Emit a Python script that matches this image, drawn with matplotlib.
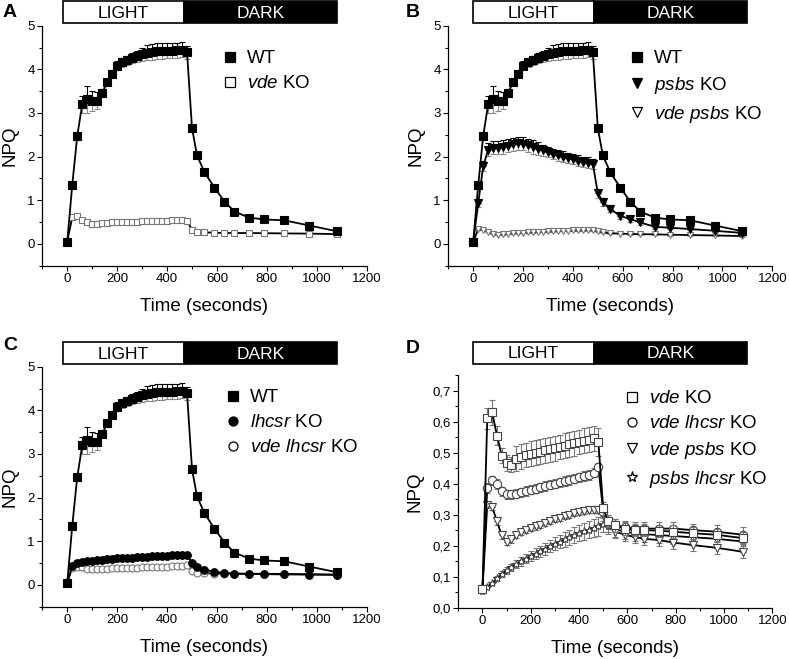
import matplotlib
matplotlib.use("Agg")
import matplotlib.pyplot as plt
from matplotlib.patches import Rectangle
from matplotlib.lines import Line2D
from matplotlib.ticker import MultipleLocator, FuncFormatter

plt.rcParams['font.family'] = ['Liberation Sans', 'DejaVu Sans']
plt.rcParams['mathtext.fontset'] = 'custom'
plt.rcParams['mathtext.it'] = 'Liberation Sans:italic'
plt.rcParams['mathtext.rm'] = 'Liberation Sans'

# time points (s): light phase then dark recovery
t = [0, 20, 40, 60, 80, 100, 120, 140, 160, 180, 200, 220, 240, 260, 280, 300,
     320, 340, 360, 380, 400, 420, 440, 460, 480,
     500, 520, 550, 590, 630, 670, 730, 790, 870, 970, 1080]

wt = [0.05, 1.35, 2.47, 3.2, 3.31, 3.27, 3.28, 3.46, 3.7, 3.9, 4.08, 4.16, 4.21, 4.26,
      4.3, 4.35, 4.38, 4.4, 4.42, 4.42, 4.43, 4.43, 4.44, 4.45, 4.39,
      2.65, 2.03, 1.64, 1.29, 0.97, 0.74, 0.6, 0.56, 0.54, 0.42, 0.29]
wt_err = [0.02, 0.05, 0.08, 0.19, 0.3, 0.23, 0.2, 0.1, 0.08, 0.08, 0.1, 0.1, 0.1, 0.12,
          0.13, 0.15, 0.17, 0.18, 0.18, 0.18, 0.18, 0.18, 0.17, 0.17, 0.15,
          0.05, 0.04, 0.04, 0.03, 0.03, 0.03, 0.03, 0.02, 0.02, 0.02, 0.02]

psbs = [0.05, 0.93, 1.78, 2.16, 2.2, 2.2, 2.22, 2.25, 2.28, 2.31, 2.29, 2.26, 2.22, 2.18,
        2.14, 2.1, 2.06, 2.03, 2.0, 1.97, 1.94, 1.91, 1.88, 1.86, 1.83,
        1.16, 0.96, 0.8, 0.64, 0.57, 0.49, 0.39, 0.37, 0.34, 0.30, 0.25]
psbs_err = [0.02, 0.08, 0.12, 0.15, 0.15, 0.15, 0.15, 0.15, 0.15, 0.15, 0.15, 0.15, 0.15,
            0.15, 0.12, 0.12, 0.12, 0.12, 0.12, 0.12, 0.12, 0.12, 0.12, 0.12, 0.12,
            0.1, 0.1, 0.08, 0.08, 0.06, 0.05, 0.04, 0.03, 0.03, 0.03, 0.03]

lhcsr = [0.05, 0.44, 0.5, 0.53, 0.545, 0.555, 0.565, 0.575, 0.585, 0.595, 0.605, 0.612,
         0.62, 0.627, 0.633, 0.64, 0.646, 0.652, 0.658, 0.664, 0.67, 0.675, 0.68, 0.685, 0.69,
         0.50, 0.40, 0.345, 0.30, 0.275, 0.26, 0.25, 0.245, 0.24, 0.235, 0.23]
lhcsr_err = [0.01, 0.03, 0.03, 0.03, 0.03, 0.03, 0.03, 0.03, 0.03, 0.03, 0.03, 0.03,
             0.03, 0.03, 0.03, 0.03, 0.03, 0.03, 0.03, 0.03, 0.03, 0.03, 0.03, 0.03, 0.03,
             0.03, 0.03, 0.02, 0.02, 0.02, 0.02, 0.02, 0.02, 0.02, 0.02, 0.02]

vde = [0.06, 0.61, 0.63, 0.555, 0.49, 0.467, 0.461, 0.48, 0.487, 0.492, 0.496, 0.50,
       0.503, 0.507, 0.51, 0.514, 0.518, 0.522, 0.526, 0.53, 0.534, 0.538, 0.542, 0.546, 0.533,
       0.32, 0.28, 0.265, 0.255, 0.25, 0.25, 0.248, 0.245, 0.24, 0.235, 0.224]
vde_err = [0.005, 0.035, 0.04, 0.03, 0.025, 0.025, 0.025, 0.04, 0.04, 0.04, 0.04, 0.04,
           0.04, 0.04, 0.04, 0.04, 0.04, 0.04, 0.04, 0.04, 0.04, 0.04, 0.04, 0.04, 0.045,
           0.02, 0.02, 0.02, 0.02, 0.02, 0.02, 0.02, 0.02, 0.02, 0.02, 0.02]

vde_lhcsr = [0.06, 0.386, 0.41, 0.399, 0.375, 0.365, 0.365, 0.368, 0.372, 0.376, 0.38,
             0.384, 0.388, 0.392, 0.396, 0.40, 0.404, 0.408, 0.412, 0.416, 0.42, 0.424,
             0.428, 0.435, 0.452,
             0.31, 0.28, 0.265, 0.26, 0.255, 0.255, 0.255, 0.255, 0.25, 0.245, 0.235]
vde_lhcsr_err = [0.005, 0.015, 0.015, 0.015, 0.015, 0.015, 0.015, 0.015, 0.015, 0.015,
                 0.015, 0.015, 0.015, 0.015, 0.015, 0.015, 0.015, 0.015, 0.015, 0.015,
                 0.015, 0.015, 0.015, 0.015, 0.015,
                 0.02, 0.02, 0.02, 0.02, 0.02, 0.02, 0.02, 0.02, 0.02, 0.02, 0.025]

vde_psbs = [0.06, 0.332, 0.326, 0.278, 0.233, 0.213, 0.22, 0.235, 0.243, 0.25, 0.256,
            0.262, 0.268, 0.274, 0.28, 0.285, 0.29, 0.295, 0.3, 0.304, 0.308, 0.311,
            0.314, 0.316, 0.315,
            0.30, 0.265, 0.245, 0.235, 0.228, 0.222, 0.218, 0.21, 0.202, 0.193, 0.18]
vde_psbs_err = [0.005, 0.01, 0.01, 0.01, 0.01, 0.01, 0.01, 0.01, 0.01, 0.01, 0.01, 0.01,
                0.01, 0.01, 0.01, 0.01, 0.01, 0.01, 0.01, 0.01, 0.01, 0.01, 0.01, 0.01, 0.01,
                0.02, 0.02, 0.02, 0.02, 0.02, 0.02, 0.02, 0.02, 0.02, 0.02, 0.02]

psbs_lhcsr = [0.055, 0.068, 0.078, 0.095, 0.108, 0.12, 0.13, 0.14, 0.15, 0.158, 0.166,
              0.174, 0.182, 0.19, 0.198, 0.206, 0.213, 0.22, 0.227, 0.234, 0.24, 0.246,
              0.252, 0.258, 0.262,
              0.27, 0.262, 0.253, 0.245, 0.24, 0.237, 0.234, 0.231, 0.227, 0.222, 0.213]
psbs_lhcsr_err = [0.005, 0.005, 0.006, 0.008, 0.01, 0.01, 0.012, 0.013, 0.014, 0.015,
                  0.016, 0.017, 0.018, 0.019, 0.02, 0.021, 0.022, 0.023, 0.024, 0.025,
                  0.026, 0.027, 0.028, 0.029, 0.03,
                  0.025, 0.025, 0.025, 0.025, 0.025, 0.025, 0.025, 0.025, 0.025, 0.025, 0.025]

W, H = 789, 659
fig = plt.figure(figsize=(W / 100, H / 100), dpi=100)


def px_axes(l, top, r, b):
    return fig.add_axes([l / W, 1 - b / H, (r - l) / W, (b - top) / H])


def style(ax, ylim, major, minor, fmt=None):
    ax.set_xlim(-100, 1200)
    ax.set_ylim(*ylim)
    for s in ['top', 'right']:
        ax.spines[s].set_visible(False)
    for s in ['left', 'bottom']:
        ax.spines[s].set_linewidth(0.9)
    ax.xaxis.set_minor_locator(MultipleLocator(100))
    ax.yaxis.set_major_locator(MultipleLocator(major))
    ax.yaxis.set_minor_locator(MultipleLocator(minor))
    ax.set_xticks([0, 200, 400, 600, 800, 1000, 1200])
    if fmt:
        ax.yaxis.set_major_formatter(FuncFormatter(fmt))
    ax.tick_params(which='major', direction='out', length=3.5, width=0.8, labelsize=9.5, pad=2)
    ax.tick_params(which='minor', direction='out', length=2, width=0.8)
    ax.set_xlabel('Time (seconds)', fontsize=13.5, labelpad=9)
    ax.set_ylabel('NPQ', fontsize=13.5, labelpad=6)


def series(ax, y, err, marker, mfc, mec, ms, up='black', lo='#888888', z=3):
    zeros = [0] * len(y)
    ax.errorbar(t, y, yerr=[zeros, err], fmt='none', ecolor=up, elinewidth=0.8,
                capsize=2, capthick=0.8, zorder=z)
    ax.errorbar(t, y, yerr=[err, zeros], fmt='none', ecolor=lo, elinewidth=0.8,
                capsize=2, capthick=0.8, zorder=z)
    ax.plot(t, y, color='black', lw=1.3, marker=marker, ms=ms, mfc=mfc, mec=mec,
            mew=0.8, zorder=z + 1)


def bar(l, top, r, b, split):
    bx = px_axes(l, top, r, b)
    bx.set_xlim(0, 1)
    bx.set_ylim(0, 1)
    bx.axis('off')
    f = (split - l) / (r - l)
    bx.add_patch(Rectangle((0, 0), f, 1, fc='white', ec='black', lw=1.2, clip_on=False))
    bx.add_patch(Rectangle((f, 0), 1 - f, 1, fc='black', ec='black', lw=1.2, clip_on=False))
    bx.text(f / 2, 0.45, 'LIGHT', ha='center', va='center', fontsize=12.5, color='black')
    bx.text(f + (1 - f) / 2, 0.45, 'DARK', ha='center', va='center', fontsize=12.5, color='white')


def legend(ax, handles, labels, x, y):
    ax.legend(handles, labels, loc='upper left', bbox_to_anchor=(x / W, 1 - y / H),
              bbox_transform=fig.transFigure, frameon=False, fontsize=13.5,
              handlelength=0.9, handletextpad=0.45, labelspacing=0.42, borderpad=0,
              borderaxespad=0)


def h(marker, mfc, ms=6.5):
    return Line2D([], [], ls='none', marker=marker, mfc=mfc, mec='black', mew=0.9, ms=ms)


comma = lambda v, p: ('%.1f' % v).replace('.', ',')

# Panel A
axA = px_axes(42.3, 25.7, 366.7, 265.7)
style(axA, (-0.5, 5), 1, 0.5)
series(axA, vde, vde_err, 's', 'white', '#777777', 5, up='#888888', z=2)
series(axA, wt, wt_err, 's', 'black', 'black', 5.5, z=4)
legend(axA, [h('s', 'black'), h('s', 'white')], ['WT', r'$\mathit{vde}$ KO'], 222, 50)
bar(63.3, 0.7, 337.3, 23.3, 184)
fig.text(3 / W, 1 - 4 / H, 'A', fontsize=14, fontweight='bold', va='top')

# Panel B
axB = px_axes(448.3, 25.7, 772.3, 265.7)
style(axB, (-0.5, 5), 1, 0.5)
series(axB, vde_psbs, vde_psbs_err, 'v', 'white', '#777777', 5, up='#888888', z=2)
series(axB, psbs, psbs_err, 'v', 'black', 'black', 5.5, z=4)
series(axB, wt, wt_err, 's', 'black', 'black', 5.5, z=6)
legend(axB, [h('s', 'black'), h('v', 'black'), h('v', 'white')],
       ['WT', r'$\mathit{psbs}$ KO', r'$\mathit{vde\ psbs}$ KO'], 629, 50)
bar(473.3, 0.7, 747.3, 23.3, 594)
fig.text(406 / W, 1 - 4 / H, 'B', fontsize=14, fontweight='bold', va='top')

# Panel C
axC = px_axes(42.3, 366.7, 366.7, 606.7)
style(axC, (-0.5, 5), 1, 0.5)
series(axC, vde_lhcsr, vde_lhcsr_err, 'o', 'white', '#777777', 5, up='#888888', z=2)
series(axC, lhcsr, lhcsr_err, 'o', 'black', 'black', 5.5, z=4)
series(axC, wt, wt_err, 's', 'black', 'black', 5.5, z=6)
legend(axC, [h('s', 'black'), h('o', 'black'), h('o', 'white')],
       ['WT', r'$\mathit{lhcsr}$ KO', r'$\mathit{vde\ lhcsr}$ KO'], 225, 389)
bar(63.3, 342.3, 337.3, 364, 184)
fig.text(3 / W, 1 - 337 / H, 'C', fontsize=14, fontweight='bold', va='top')

# Panel D
axD = px_axes(458.3, 375, 772.3, 607.7)
style(axD, (0, 0.75), 0.1, 0.05, comma)
axD.set_yticks([0, 0.1, 0.2, 0.3, 0.4, 0.5, 0.6, 0.7])
series(axD, psbs_lhcsr, psbs_lhcsr_err, '*', 'white', '#444444', 6, up='#777777', lo='#777777', z=2)
series(axD, vde_psbs, vde_psbs_err, 'v', 'white', '#444444', 6, up='#777777', lo='#777777', z=4)
series(axD, vde_lhcsr, vde_lhcsr_err, 'o', 'white', '#444444', 6, up='#777777', lo='#777777', z=6)
series(axD, vde, vde_err, 's', 'white', '#444444', 5.5, up='#777777', lo='#777777', z=8)
legend(axD, [h('s', 'white'), h('o', 'white'), h('v', 'white'), h('*', 'white', 8)],
       [r'$\mathit{vde}$ KO', r'$\mathit{vde\ lhcsr}$ KO', r'$\mathit{vde\ psbs}$ KO',
        r'$\mathit{psbs\ lhcsr}$ KO'], 624, 390)
bar(473.3, 341.7, 747.3, 364, 594)
fig.text(406 / W, 1 - 340 / H, 'D', fontsize=14, fontweight='bold', va='top')

fig.savefig('out.png', dpi=100)
